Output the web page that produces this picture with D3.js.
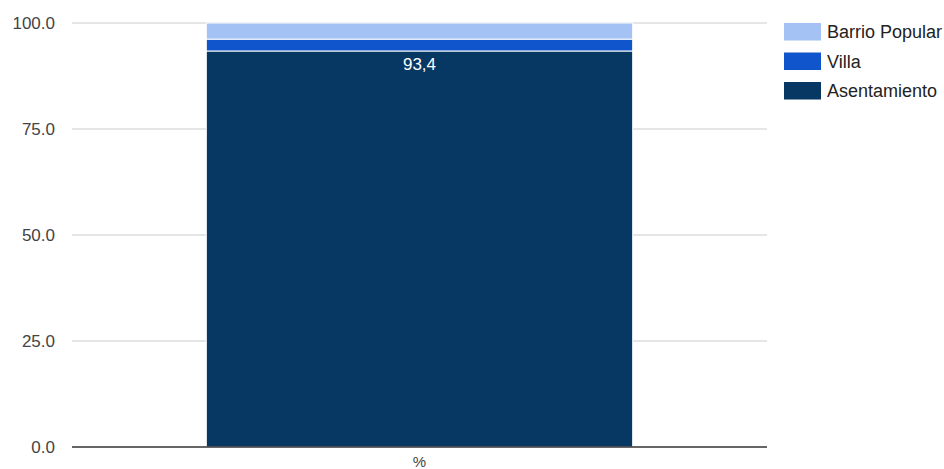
<!DOCTYPE html>
<html><head><meta charset="utf-8">
<script src="https://cdn.jsdelivr.net/npm/d3@7"></script>
<style>body{margin:0;background:#fff}svg{display:block;font-family:"Liberation Sans",Arial,sans-serif}</style>
</head><body><svg id="c" width="944" height="469"></svg>
<script>
const categories = ["%"];
const seriesNames = ["Asentamiento", "Villa", "Barrio Popular"];
const asentamiento = [93.4];
const villa = [2.8];
const barrioPopular = [3.8];
const yTicks = [0, 25, 50, 75, 100];
const colors = ["#073763", "#1155cc", "#a4c2f4"];

const svg = d3.select("#c");
const m = {l: 72, r: 177, t: 23, b: 22};
const W = 944, H = 469;
const x = d3.scaleBand().domain(categories).range([m.l, W - m.r]).paddingInner(0).paddingOuter(0.315);
const y = d3.scaleLinear().domain([0, 100]).range([H - m.b, m.t]);

const rows = categories.map((c, i) => ({cat: c, Asentamiento: asentamiento[i], Villa: villa[i], "Barrio Popular": barrioPopular[i]}));
const stacked = d3.stack().keys(seriesNames)(rows);

// gridlines
svg.append("g").selectAll("line").data(yTicks.filter(d => d !== 0)).join("line")
  .attr("x1", m.l).attr("x2", W - m.r).attr("y1", d => y(d)).attr("y2", d => y(d))
  .attr("stroke", "#cccccc").attr("stroke-width", 1);

// y labels
svg.append("g").selectAll("text").data(yTicks).join("text")
  .attr("x", 55).attr("y", d => y(d)).attr("dy", "0.35em").attr("text-anchor", "end")
  .attr("font-size", 17).attr("fill", "#444").text(d => d.toFixed(1));

// bars
svg.append("g").selectAll("g").data(stacked).join("g")
  .attr("fill", (d, i) => colors[i])
  .selectAll("rect").data(d => d).join("rect")
  .attr("x", d => x(d.data.cat)).attr("width", x.bandwidth())
  .attr("y", d => y(d[1])).attr("height", d => y(d[0]) - y(d[1]))
  .attr("stroke", "#ffffff").attr("stroke-width", 1);

// baseline
svg.append("line").attr("x1", m.l).attr("x2", W - m.r).attr("y1", y(0)).attr("y2", y(0))
  .attr("stroke", "#333").attr("stroke-width", 1.5);

// data label
svg.append("g").selectAll("text").data(stacked[0]).join("text")
  .attr("x", d => x(d.data.cat) + x.bandwidth() / 2).attr("y", d => y(d[1]) + 19)
  .attr("text-anchor", "middle").attr("font-size", 17).attr("fill", "#ffffff")
  .text(d => String(d[1] - d[0]).replace(".", ","));

// x label
svg.append("g").selectAll("text").data(categories).join("text")
  .attr("x", d => x(d) + x.bandwidth() / 2).attr("y", H - 2)
  .attr("text-anchor", "middle").attr("font-size", 15).attr("fill", "#444").text(d => d);

// legend
const legendOrder = ["Barrio Popular", "Villa", "Asentamiento"];
const lg = svg.append("g").selectAll("g").data(legendOrder).join("g")
  .attr("transform", (d, i) => `translate(784,${23 + i * 29.5})`);
lg.append("rect").attr("width", 37).attr("height", 17.5).attr("fill", d => colors[seriesNames.indexOf(d)]);
lg.append("text").attr("x", 43).attr("y", 9).attr("dy", "0.35em").attr("font-size", 18).attr("fill", "#222").text(d => d);
</script></body></html>
